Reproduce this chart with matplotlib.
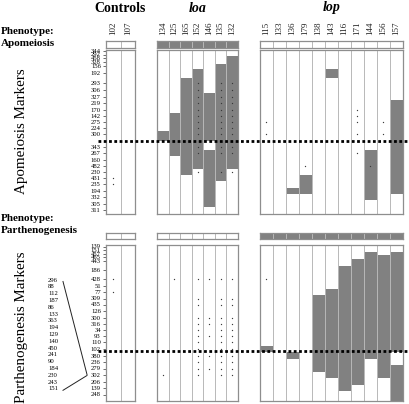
import matplotlib
matplotlib.use("Agg")
import matplotlib.pyplot as plt

plt.rcParams['font.family'] = ['Liberation Serif', 'DejaVu Serif']

W, H = 410, 404

# ---------------- data ----------------
group_names = ["Controls", "loa", "lop"]
group_ids = {
    "Controls": ["102", "107"],
    "loa": ["134", "125", "165", "152", "146", "135", "132"],
    "lop": ["115", "133", "136", "179", "138", "143", "116", "171", "144", "156", "157"],
}

# phenotype header (1 = phenotype present)
apo_pheno = {"Controls": [0, 0], "loa": [1, 1, 1, 1, 1, 1, 1],
             "lop": [0, 0, 0, 0, 0, 0, 0, 0, 0, 0, 0]}
parth_pheno = {"Controls": [0, 0], "loa": [0, 0, 0, 0, 0, 0, 0],
               "lop": [1, 1, 1, 1, 1, 1, 1, 1, 1, 1, 1]}

# Apomeiosis linkage group: markers and map positions
apo_markers = ["344", "292", "458", "328", "156", "192", "293", "306", "327", "219",
               "170", "142", "275", "224", "300", "343", "267", "160", "482", "230",
               "431", "235", "194", "332", "305", "311"]
apo_pos = [1, 4.5, 8, 11.5, 15.5, 23, 33.3, 40, 46.7, 53.3, 60, 66, 72.3, 78.3, 84.3,
           96.7, 103.3, 109.5, 115.7, 121.7, 128, 134.3, 140.7, 147, 153.5, 160]
apo_range = (0, 164)
apo_locus = 90.5

# Parthenogenesis linkage group
parth_markers = ["139", "151", "457", "465", "443", "186", "428", "51", "77", "309",
                 "435", "126", "300", "316", "34", "93", "110", "102", "380", "236",
                 "279", "302", "206", "139", "248"]
parth_pos = [1.5, 5, 8.5, 12, 16, 25, 34, 40.5, 47, 53.5, 59.5, 66, 72.5, 78.5, 84.5,
             91, 97, 104, 110.5, 117, 123.5, 130, 136.5, 143, 149.5]
parth_range = (0, 156)
parth_locus = 106

# co-segregating markers listed beside the map, pointing to marker "302"
coseg_markers = ["296", "88", "112", "187", "86", "133", "363", "194", "129", "140",
                 "450", "241", "90", "184", "230", "243", "151"]
coseg_target = 21

# recombinant segments (first marker index, last marker index)
apo_blocks = {
    "134": [(14, 14)], "125": [(11, 16)], "165": [(6, 19)], "152": [(5, 18)],
    "146": [(8, 14), (16, 24)], "135": [(4, 20)], "132": [(2, 18)],
    "136": [(22, 22)], "179": [(20, 22)], "143": [(5, 5)], "144": [(16, 23)],
    "157": [(9, 22)],
}
apo_dots = {
    "102": [20, 21],
    "152": [6, 7, 8, 9, 10, 11, 12, 13, 14, 15, 16, 19],
    "135": [6, 7, 8, 9, 10, 11, 12, 13, 14, 15, 16, 19],
    "132": [6, 7, 8, 9, 10, 11, 12, 13, 14, 15, 16, 19],
    "115": [12, 14], "171": [10, 11, 12, 14, 16], "156": [12, 14],
    "179": [18], "144": [18],
}

parth_blocks = {
    "115": [(17, 17)], "136": [(18, 18)], "138": [(9, 20)], "143": [(8, 21)],
    "116": [(5, 23)], "171": [(4, 22)], "144": [(2, 18)], "156": [(3, 21)],
    "157": [(2, 17), (20, 24)],
}
parth_dots = {
    "102": [6, 8],
    "134": [21], "125": [6],
    "152": [6, 9, 10, 12, 13, 14, 15, 16, 17, 18, 19, 20, 21],
    "146": [6, 12, 13, 15, 18, 20],
    "135": [6, 9, 10, 12, 13, 14, 15, 16, 17, 18, 19, 20, 21],
    "132": [6, 9, 10, 12, 13, 14, 15, 16, 17, 18, 19, 20, 21],
    "115": [6],
}

# ---------------- style / layout ----------------
FILL = "#818181"
EDGE = "#8e8e8e"
DIV = "#b8b8b8"
DOT = "#3a3a3a"

group_x = {"Controls": (106, 135), "loa": (157, 238), "lop": (260, 403)}
apo_y, parth_y = (50, 214), (245, 401)
apo_head_y, parth_head_y = (41, 48), (233, 239)

fig = plt.figure(figsize=(W / 100, H / 100), dpi=100)


def add_ax(x0, x1, y0, y1):
    return fig.add_axes([x0 / W, 1 - y1 / H, (x1 - x0) / W, (y1 - y0) / H])


def style(ax):
    ax.set_xticks([])
    ax.set_yticks([])
    for s in ax.spines.values():
        s.set_color(EDGE)
        s.set_linewidth(0.9)


def edges(pos, rng):
    return [rng[0]] + [(a + b) / 2 for a, b in zip(pos[:-1], pos[1:])] + [rng[1]]


def draw_panel(ax, ids, blocks, dots, pos, rng):
    n = len(ids)
    e = edges(pos, rng)
    for c, cid in enumerate(ids):
        for (i, j) in blocks.get(cid, []):
            ax.bar(c + 0.5, e[j + 1] - e[i], bottom=e[i], width=1.0,
                   color=FILL, linewidth=0, zorder=1)
        rows = dots.get(cid, [])
        if rows:
            ax.scatter([c + 0.5] * len(rows), [pos[r] for r in rows], s=0.9,
                       color=DOT, linewidths=0, zorder=3)
    for k in range(1, n):
        ax.axvline(k, color=DIV, lw=0.7, zorder=2)
    ax.set_xlim(0, n)
    ax.set_ylim(rng[1], rng[0])
    style(ax)


def draw_header(ax, flags):
    n = len(flags)
    ax.bar([c + 0.5 for c in range(n)], flags, width=1.0, color=FILL, linewidth=0)
    for k in range(1, n):
        ax.axvline(k, color=DIV, lw=0.7, zorder=2)
    ax.set_xlim(0, n)
    ax.set_ylim(0, 1)
    style(ax)


panel_axes = {}
for g in group_names:
    x0, x1 = group_x[g]
    ids = group_ids[g]
    # headers
    ha = add_ax(x0, x1, *apo_head_y)
    draw_header(ha, apo_pheno[g])
    ha.xaxis.tick_top()
    ha.set_xticks([c + 0.5 for c in range(len(ids))])
    ha.set_xticklabels(ids, rotation=90, fontsize=6.5, color="#222222")
    ha.tick_params(axis="x", length=0, pad=4.5)
    hb = add_ax(x0, x1, *parth_head_y)
    draw_header(hb, parth_pheno[g])
    # panels
    a = add_ax(x0, x1, *apo_y)
    draw_panel(a, ids, apo_blocks, apo_dots, apo_pos, apo_range)
    b = add_ax(x0, x1, *parth_y)
    draw_panel(b, ids, parth_blocks, parth_dots, parth_pos, parth_range)
    panel_axes[g] = (a, b)
    # group title
    style_kw = dict(fontsize=10, fontweight="bold", ha="center", va="center")
    if g != "Controls":
        style_kw["fontstyle"] = "italic"
    fig.text(((x0 + x1) / 2) / W, 1 - 8 / H, g, **style_kw)

# marker axes on the controls panels
for ax, pos, names in ((panel_axes["Controls"][0], apo_pos, apo_markers),
                       (panel_axes["Controls"][1], parth_pos, parth_markers)):
    ax.set_yticks(pos)
    ax.set_yticklabels(names, fontsize=4.8)
    ax.tick_params(axis="y", length=2.2, width=0.6, color="#555555", pad=1.5,
                   direction="out")

# phenotype labels
for y, t in ((31.5, "Phenotype:"), (44, "Apomeiosis"),
             (218.5, "Phenotype:"), (231, "Parthenogenesis")):
    fig.text(0.5 / W, 1 - y / H, t, fontsize=8, fontweight="bold",
             ha="left", va="center")

fig.text(22 / W, 1 - 131 / H, "Apomeiosis Markers", rotation=90, fontsize=10.8,
         ha="center", va="center")
fig.text(22 / W, 1 - 327 / H, "Parthenogenesis Markers", rotation=90, fontsize=10.8,
         ha="center", va="center")

# co-segregating marker list with pointer lines
la = add_ax(40, 106, *parth_y)
la.set_xlim(0, 66)
la.set_ylim(parth_range[1], parth_range[0])
la.axis("off")
list_top, list_step = 35, 6.8
list_y = [list_top + k * list_step for k in range(len(coseg_markers))]
for yy, t in zip(list_y, coseg_markers):
    la.text(8, yy, t, fontsize=4.8, ha="left", va="center")
tgt = parth_pos[coseg_target]
la.plot([23, 47], [list_y[0] + 1.5, tgt - 0.5], color="#222222", lw=0.7)
la.plot([23, 47], [list_y[-1] + 1.5, tgt + 0.5], color="#222222", lw=0.7)

# dotted locus lines
for yr, rng, loc in ((apo_y, apo_range, apo_locus), (parth_y, parth_range, parth_locus)):
    ov = add_ax(98, 410, *yr)
    ov.set_xlim(0, 1)
    ov.set_ylim(rng[1], rng[0])
    ov.axis("off")
    ov.patch.set_alpha(0)
    ov.axhline(loc, color="black", lw=2.0, dashes=(1, 0.9))

fig.savefig("out.png", dpi=100)
